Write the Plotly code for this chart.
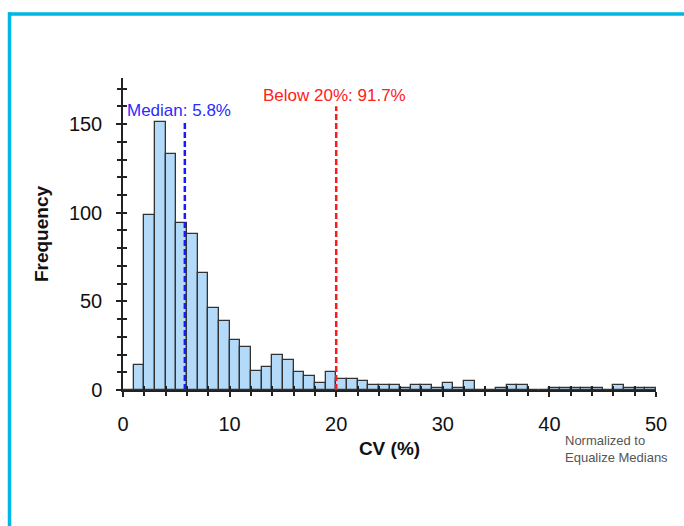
import plotly.graph_objects as go

# Histogram data (bin width 1, left edges 0..49)
bin_left = list(range(0, 50))
counts = [0, 14, 99, 151, 133, 94, 88, 66, 46, 39,
          28, 24, 11, 13, 20, 17, 10, 8, 4, 10,
          6, 6, 5, 3, 3, 3, 1, 3, 3, 1,
          4, 1, 5, 0, 0, 1, 3, 3, 0, 0,
          1, 1, 1, 1, 1, 0, 3, 1, 1, 1]
median_value = 5.8
threshold_value = 20
median_label = "Median: 5.8%"
threshold_label = "Below 20%: 91.7%"
x_title = "CV (%)"
y_title = "Frequency"
note_text = "Normalized to<br>Equalize Medians"

W, H = 684, 526
L, R, T, B = 123, 656, 78, 390  # plot area pixel bounds
def px(x):
    return (x - L) / (R - L)
def py(y):
    return (B - y) / (B - T)

centers = [b + 0.5 for b in bin_left]
font_family = "Liberation Sans, Arial, sans-serif"
axis_color = "#222222"

fig = go.Figure()
fig.add_trace(go.Bar(
    x=centers, y=counts, width=1,
    marker=dict(color="rgb(180,218,250)", line=dict(color="#333333", width=1.3)),
    hoverinfo="x+y", showlegend=False,
))
# invisible trace for overlay axes (inside ticks -> crossing tick look)
fig.add_trace(go.Scatter(x=[0], y=[0], xaxis="x2", yaxis="y2", mode="markers",
                         marker=dict(opacity=0), showlegend=False, hoverinfo="skip"))

YMAX = 176
fig.add_shape(type="line", x0=median_value, x1=median_value, y0=0, y1=152,
              line=dict(color="#1a1aff", width=2.5, dash="6px,3px"))
fig.add_shape(type="line", x0=threshold_value, x1=threshold_value, y0=0, y1=160,
              line=dict(color="#ff1a1a", width=2.5, dash="6px,3px"))

# cyan frame
frame = "rgb(0,182,228)"
fig.add_shape(type="line", xref="paper", yref="paper", x0=px(8), x1=px(700),
              y0=py(14), y1=py(14), line=dict(color=frame, width=3.5))
fig.add_shape(type="line", xref="paper", yref="paper", x0=px(9.5), x1=px(9.5),
              y0=py(12.3), y1=py(540), line=dict(color=frame, width=3.5))

fig.add_annotation(x=px(125), y=py(111), xref="paper", yref="paper", text=median_label,
                   showarrow=False, xanchor="left", yanchor="middle",
                   font=dict(family=font_family, size=17, color="#2b2bff"))
fig.add_annotation(x=px(334), y=py(95), xref="paper", yref="paper", text=threshold_label,
                   showarrow=False, xanchor="center", yanchor="middle",
                   font=dict(family=font_family, size=17, color="#ff2020"))
fig.add_annotation(x=px(563), y=py(449), xref="paper", yref="paper", text=note_text,
                   showarrow=False, xanchor="left", yanchor="middle", align="left",
                   font=dict(family=font_family, size=13, color="#555555"))

common_axis = dict(showgrid=False, zeroline=False, linecolor=axis_color, linewidth=1.5,
                   tickcolor=axis_color, tickwidth=1.5)
overlay_common = {k: v for k, v in common_axis.items() if k not in ("linecolor", "linewidth")}
fig.update_layout(
    width=W, height=H,
    margin=dict(l=L, r=W - R, t=T, b=H - B, pad=0),
    paper_bgcolor="white", plot_bgcolor="white",
    bargap=0,
    font=dict(family=font_family, color="#111111"),
    xaxis=dict(range=[0, 50], showline=True, ticks="outside", ticklen=5,
               tickmode="linear", tick0=0, dtick=10,
               minor=dict(dtick=2, ticks="outside", ticklen=4, tickcolor=axis_color, tickwidth=1.5),
               tickfont=dict(size=20, family=font_family, color="#111111"),
               ticklabelstandoff=10,
               title=dict(text="<b>" + x_title + "</b>", font=dict(size=19, family=font_family),
                          standoff=8),
               **common_axis),
    yaxis=dict(range=[0, YMAX], showline=True, ticks="outside", ticklen=5,
               tickmode="linear", tick0=0, dtick=50,
               minor=dict(dtick=10, ticks="outside", ticklen=4, tickcolor=axis_color, tickwidth=1.5),
               tickfont=dict(size=20, family=font_family, color="#111111"),
               ticklabelstandoff=10,
               title=dict(text="<b>" + y_title + "</b>", font=dict(size=19, family=font_family),
                          standoff=15),
               **common_axis),
    xaxis2=dict(range=[0, 50], overlaying="x", anchor="y2", showline=False, ticks="inside",
                ticklen=4, tickmode="linear", tick0=0, dtick=10, showticklabels=False,
                minor=dict(dtick=2, ticks="inside", ticklen=4, tickcolor=axis_color, tickwidth=1.5),
                **overlay_common),
    yaxis2=dict(range=[0, YMAX], overlaying="y", anchor="x2", showline=False, ticks="inside",
                ticklen=4, tickmode="linear", tick0=0, dtick=50, showticklabels=False,
                minor=dict(dtick=10, ticks="inside", ticklen=4, tickcolor=axis_color, tickwidth=1.5),
                **overlay_common),
)

fig.write_html("out.html", config={"displayModeBar": False},
               post_script="document.body.style.margin='0';document.body.style.padding='0';")
